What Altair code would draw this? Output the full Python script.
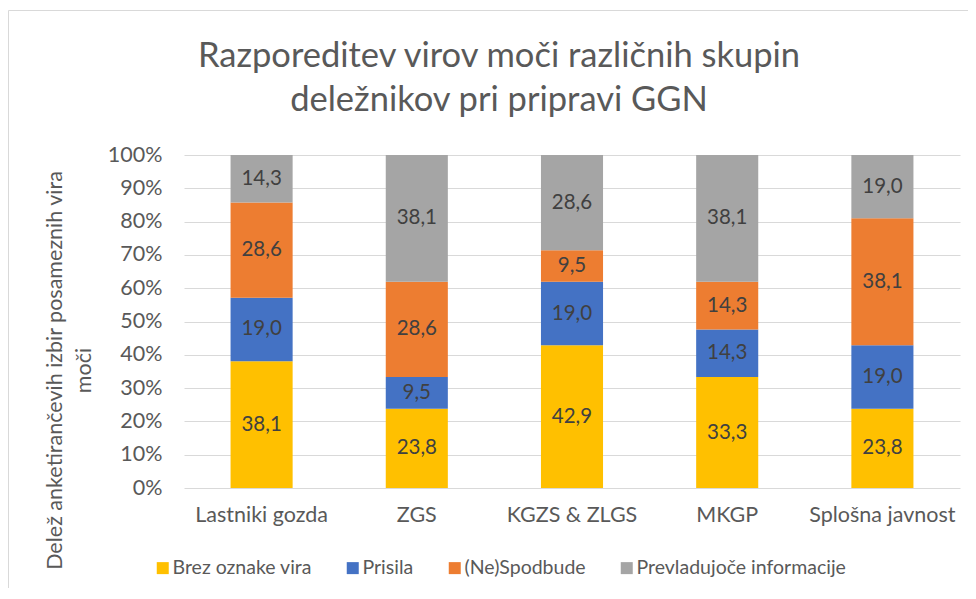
import altair as alt
import pandas as pd

categories = ["Lastniki gozda", "ZGS", "KGZS & ZLGS", "MKGP", "Splošna javnost"]
series = ["Brez oznake vira", "Prisila", "(Ne)Spodbude", "Prevladujoče informacije"]
colors = ["#FFC000", "#4472C4", "#ED7D31", "#A5A5A5"]

brez_oznake = [38.1, 23.8, 42.9, 33.3, 23.8]
prisila = [19.0, 9.5, 19.0, 14.3, 19.0]
spodbude = [28.6, 28.6, 9.5, 14.3, 38.1]
prevladujoce = [14.3, 38.1, 28.6, 38.1, 19.0]

y_ticks = [0, 0.1, 0.2, 0.3, 0.4, 0.5, 0.6, 0.7, 0.8, 0.9, 1.0]

rows = []
for j, (s, vals) in enumerate(zip(series, [brez_oznake, prisila, spodbude, prevladujoce])):
    for i, c in enumerate(categories):
        v = vals[i]
        rows.append({"cat": c, "series": s, "order": j, "value": v,
                     "label": f"{v:.1f}".replace(".", ",")})
df = pd.DataFrame(rows)

FONT = "Lato"
GREY = "#595959"

base = alt.Chart(df).transform_stack(
    stack="value", groupby=["cat"],
    sort=[alt.SortField("order", order="ascending")],
    offset="normalize", as_=["y0", "y1"]
)

x_axis = alt.Axis(title=None, labelAngle=0, labelFontSize=21.5, labelColor=GREY,
                  labelFont=FONT, labelPadding=16, ticks=False, domain=False, grid=False)
x_scale = alt.Scale(paddingInner=0.6, paddingOuter=0.3)

y_axis = alt.Axis(values=y_ticks, format=".0%", labelFontSize=21.5, labelColor=GREY,
                  labelFont=FONT, labelPadding=22, ticks=False, domain=False,
                  labelOverlap=False, tickCount=11,
                  gridColor="#D9D9D9", gridWidth=1,
                  title=["Delež anketirančevih izbir posameznih vira", "moči"],
                  titleFont=FONT, titleFontSize=21.5, titleFontWeight="normal",
                  titleColor=GREY, titleAngle=-90, titleX=-140, titleY=215,
                  titleAlign="center", titleBaseline="top", titleLineHeight=29)
y_scale = alt.Scale(domain=[0, 1])

bars = base.mark_bar().encode(
    x=alt.X("cat:N", sort=categories, scale=x_scale, axis=x_axis),
    y=alt.Y("y0:Q", scale=y_scale, axis=y_axis),
    y2="y1:Q",
    color=alt.Color("series:N", scale=alt.Scale(domain=series, range=colors),
                    legend=alt.Legend(title=None, orient="none", direction="horizontal",
                                      legendX=-31, legendY=403, symbolType="square",
                                      symbolSize=144, symbolStrokeWidth=0,
                                      labelFontSize=19.5, labelFont=FONT, labelColor=GREY,
                                      labelOffset=0, columnPadding=31, labelLimit=400)),
)

labels = base.transform_calculate(mid="(datum.y0 + datum.y1) / 2").mark_text(
    font=FONT, fontSize=20.5, color="#404040"
).encode(
    x=alt.X("cat:N", sort=categories, scale=x_scale, axis=x_axis),
    y=alt.Y("mid:Q", scale=y_scale, axis=y_axis),
    text="label:N",
)

frame = alt.Chart(pd.DataFrame({"a": [0]})).mark_rect(
    fillOpacity=0, stroke="#D9D9D9", strokeWidth=1
).encode(x=alt.value(-175.5), x2=alt.value(1100), y=alt.value(-144.5), y2=alt.value(1100))

chart = alt.layer(frame, bars, labels).properties(
    width=776, height=333,
    title=alt.TitleParams(text=["Razporeditev virov moči različnih skupin",
                                "deležnikov pri pripravi GGN"],
                          font=FONT, fontSize=34.5, fontWeight="normal", color=GREY,
                          anchor="middle", frame="group", dx=-73, offset=-108,
                          lineHeight=44),
    autosize=alt.AutoSizeParams(type="none"),
    padding={"left": 176, "top": 147, "right": 8, "bottom": 100},
).configure_view(stroke=None)

chart.save("out.html", embed_options={"renderer": "svg", "actions": False})
